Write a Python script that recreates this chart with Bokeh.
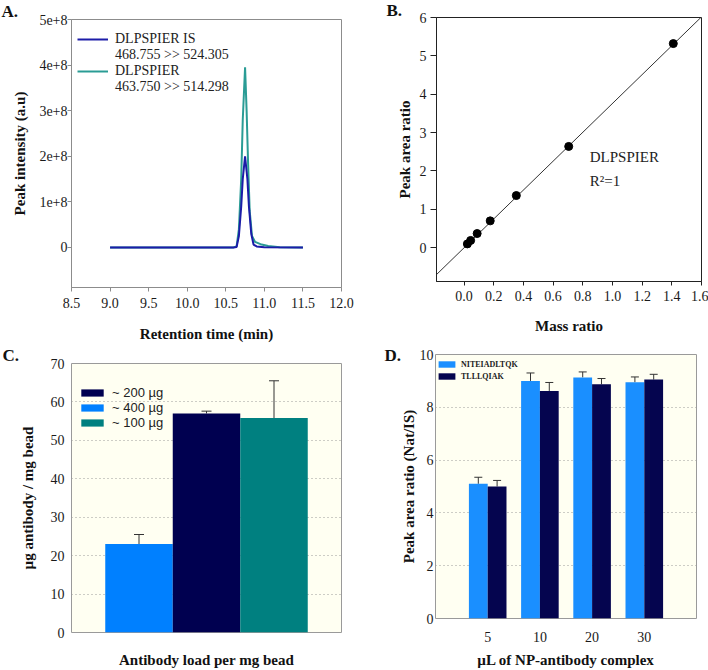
from bokeh.plotting import figure
from bokeh.layouts import column, row
from bokeh.models import (Range1d, FixedTicker, CustomJSTickFormatter, PrintfTickFormatter,
                          Legend, LegendItem, Label, Whisker, TeeHead, ColumnDataSource)
from bokeh.transform import dodge
from bokeh.embed import file_html
from bokeh.resources import INLINE

SERIF = "Liberation Serif"
SANS = "Liberation Sans"

# ---------------- Panel A data (chromatogram) ----------------
rt_is = [9.0, 10.60, 10.64, 10.67, 10.70, 10.72, 10.75, 10.78, 10.80, 10.83, 10.86, 10.90, 11.00, 11.50]
int_is = [0, 0, 0.01e8, 0.25e8, 0.9e8, 1.5e8, 2.0e8, 1.5e8, 0.9e8, 0.3e8, 0.06e8, 0.02e8, 0.005e8, 0]
rt_nat = [9.0, 10.60, 10.64, 10.67, 10.70, 10.72, 10.75, 10.77, 10.79, 10.81, 10.84, 10.88, 10.95, 11.05, 11.20, 11.50]
int_nat = [0, 0, 0.02e8, 0.4e8, 1.5e8, 2.8e8, 3.95e8, 3.0e8, 1.8e8, 0.8e8, 0.25e8, 0.12e8, 0.07e8, 0.03e8, 0.005e8, 0]
legend_a = ["DLPSPIER IS", "468.755 >> 524.305", "DLPSPIER", "463.750 >> 514.298"]
a_xticks = [8.5, 9.0, 9.5, 10.0, 10.5, 11.0, 11.5, 12.0]
a_yticks = [0, 1e8, 2e8, 3e8, 4e8, 5e8]

# ---------------- Panel B data (calibration) ----------------
mass_ratio = [0.022, 0.044, 0.088, 0.176, 0.352, 0.705, 1.41]
area_ratio = [0.10, 0.19, 0.37, 0.70, 1.36, 2.64, 5.32]
fit_slope = 3.76
fit_intercept = 0.0
b_xticks = [0.0, 0.2, 0.4, 0.6, 0.8, 1.0, 1.2, 1.4, 1.6]
b_yticks = [0, 1, 2, 3, 4, 5, 6]
b_note = ["DLPSPIER", "R\u00b2=1"]

# ---------------- Panel C data (antibody load) ----------------
c_labels = ["~ 400 \u00b5g", "~ 200 \u00b5g", "~ 100 \u00b5g"]
c_values = [23.0, 57.0, 55.8]
c_errors = [2.5, 0.6, 9.7]
c_colors = ["#0080ff", "#000050", "#008080"]
c_legend_order = ["~ 200 \u00b5g", "~ 400 \u00b5g", "~ 100 \u00b5g"]
c_yticks = [0, 10, 20, 30, 40, 50, 60, 70]

# ---------------- Panel D data ----------------
d_volumes = ["5", "10", "20", "30"]
d_series = ["NITEIADLTQK", "TLLLQIAK"]
d_nite = [5.10, 9.00, 9.13, 8.95]
d_nite_err = [0.25, 0.30, 0.21, 0.20]
d_tllq = [5.00, 8.62, 8.87, 9.05]
d_tllq_err = [0.23, 0.32, 0.22, 0.20]
d_yticks = [0, 2, 4, 6, 8, 10]

panel_letters = ["A.", "B.", "C.", "D."]

BLUE_A = "#1c1ca8"
TEAL_A = "#2a9c95"
IVORY = "#fffff2"
ERR = "#333333"


def base_axes(p, color, tick_out, size="14px"):
    for ax in p.axis:
        ax.axis_line_color = color
        ax.major_tick_line_color = color if tick_out else None
        ax.minor_tick_line_color = None
        ax.major_tick_out = tick_out
        ax.major_tick_in = 0
        ax.major_label_text_font = SERIF
        ax.major_label_text_font_size = size
        ax.major_label_text_color = "#1a1a1a"
        ax.axis_label_text_font = SERIF
        ax.axis_label_text_font_style = "bold"
        ax.axis_label_text_font_size = "15px"
        ax.axis_label_text_color = "#111111"


def letter_title(p, text, offset, standoff, size="17px"):
    t = p.title
    t.text = text
    t.align = "left"
    t.offset = offset
    t.standoff = standoff
    t.vertical_align = "bottom"
    t.text_font = SERIF
    t.text_font_style = "bold"
    t.text_font_size = size
    t.text_color = "#111111"


def fig(w, h, xr, yr, l, r, t, b):
    return figure(width=w, height=h, x_range=xr, y_range=yr, output_backend="svg",
                  toolbar_location=None, min_border_left=l, min_border_right=r,
                  min_border_top=t, min_border_bottom=b)


# ================= Panel A =================
pA = fig(354, 344, Range1d(8.5, 12.0), Range1d(-0.88e8, 5e8), 71, 13, 19, 57)
pA.grid.visible = False
pA.outline_line_color = "#8c8c8c"
r_nat = pA.line(rt_nat, int_nat, line_color=TEAL_A, line_width=2)
r_is = pA.line(rt_is, int_is, line_color=BLUE_A, line_width=2)
r_blank = pA.line([], [], line_alpha=0)
base_axes(pA, "#8c8c8c", 4)
pA.xaxis.ticker = FixedTicker(ticks=a_xticks)
pA.xaxis.formatter = PrintfTickFormatter(format="%.1f")
pA.yaxis.ticker = FixedTicker(ticks=a_yticks)
pA.yaxis.formatter = CustomJSTickFormatter(code="return tick == 0 ? '0' : (tick/1e8).toFixed(0) + 'e+8';")
pA.xaxis.axis_label = "Retention time (min)"
pA.xaxis.major_label_standoff = 6
pA.xaxis.axis_label_standoff = 15
pA.yaxis.axis_label = "Peak intensity (a.u)"
pA.yaxis.major_label_standoff = 0
pA.yaxis.axis_label_standoff = 8
legA = Legend(items=[LegendItem(label=legend_a[0], renderers=[r_is]),
                     LegendItem(label=legend_a[1], renderers=[r_blank]),
                     LegendItem(label=legend_a[2], renderers=[r_nat]),
                     LegendItem(label=legend_a[3], renderers=[r_blank])],
              location=(6, 192), padding=0, spacing=0, margin=0,
              glyph_width=31, glyph_height=16, label_height=16, label_standoff=7,
              label_text_font=SERIF, label_text_font_size="14px", label_text_color="#222222",
              background_fill_alpha=0, border_line_color=None)
pA.add_layout(legA)
letter_title(pA, panel_letters[0], -70, -2)

# ================= Panel B =================
pB = fig(354, 344, Range1d(-0.186, 1.6), Range1d(-0.88, 6.0), 82, 7, 17, 63)
pB.grid.visible = False
pB.outline_line_color = "#222222"
fit_x = [pB.x_range.start, pB.x_range.end]
fit_y = [fit_slope * v + fit_intercept for v in fit_x]
pB.line(fit_x, fit_y, line_color="#333333", line_width=1)
pB.scatter(mass_ratio, area_ratio, size=8, fill_color="black", line_color="black")
base_axes(pB, "#222222", 4)
pB.yaxis.major_tick_out = 6
pB.xaxis.ticker = FixedTicker(ticks=b_xticks)
pB.xaxis.formatter = PrintfTickFormatter(format="%.1f")
pB.yaxis.ticker = FixedTicker(ticks=b_yticks)
pB.xaxis.axis_label = "Mass ratio"
pB.xaxis.major_label_standoff = 5
pB.xaxis.axis_label_standoff = 14
pB.yaxis.axis_label = "Peak area ratio"
pB.yaxis.major_label_standoff = 4
pB.yaxis.axis_label_standoff = 4
pB.add_layout(Label(x=0.847, y=2.36, text=b_note[0], text_font=SERIF, text_font_size="15px",
                    text_baseline="middle", text_color="#222222"))
pB.add_layout(Label(x=0.847, y=1.75, text=b_note[1], text_font=SERIF, text_font_size="15px",
                    text_baseline="middle", text_color="#222222"))
letter_title(pB, panel_letters[1], -50, -4)

# ================= Panel C =================
c_pos = [i + 1 for i in range(len(c_labels))]
srcC = ColumnDataSource(dict(x=c_pos, top=c_values,
                             upper=[v + e for v, e in zip(c_values, c_errors)],
                             color=c_colors, label=c_labels))
pC = fig(354, 326, Range1d(0, len(c_labels) + 1), Range1d(0, 70), 71, 13, 19, 38)
pC.background_fill_color = IVORY
pC.outline_line_color = "#9a9a9a"
pC.xgrid.visible = False
pC.ygrid.ticker = FixedTicker(ticks=c_yticks)
pC.ygrid.grid_line_color = "#9a9a9a"
pC.ygrid.grid_line_dash = "1 3"
rC = pC.vbar(x="x", top="top", width=1.0, fill_color="color", line_color=None, source=srcC)
pC.add_layout(Whisker(base="x", lower="top", upper="upper", source=srcC, line_color=ERR,
                      line_width=1, lower_head=None,
                      upper_head=TeeHead(size=10, line_color=ERR, line_width=1)))
base_axes(pC, None, 0)
pC.xaxis.ticker = FixedTicker(ticks=[])
pC.yaxis.ticker = FixedTicker(ticks=c_yticks)
pC.yaxis.major_label_standoff = 7
pC.yaxis.axis_label = "\u00b5g antibody / mg bead"
pC.yaxis.axis_label_standoff = 12
pC.xaxis.axis_label = "Antibody load per mg bead"
pC.xaxis.axis_label_standoff = 19
legC = Legend(items=[LegendItem(label=lbl, renderers=[rC], index=c_labels.index(lbl))
                     for lbl in c_legend_order],
              location=(7, 202), padding=0, spacing=-2, margin=0,
              glyph_width=28, glyph_height=9, label_height=14, label_standoff=6,
              label_text_font=SANS, label_text_font_size="13px", label_text_color="#222222",
              background_fill_alpha=0, border_line_color=None)
pC.add_layout(legC)
letter_title(pC, panel_letters[2], -69, -2)

# ================= Panel D =================
d_pos = [i + 1 for i in range(len(d_volumes))]
srcD = ColumnDataSource(dict(x=d_pos, nite=d_nite, tllq=d_tllq,
                             nite_top=[v + e for v, e in zip(d_nite, d_nite_err)],
                             tllq_top=[v + e for v, e in zip(d_tllq, d_tllq_err)]))
pD = fig(354, 326, Range1d(0, len(d_volumes) + 1), Range1d(0, 10), 81, 12, 10, 52)
pD.background_fill_color = IVORY
pD.outline_line_color = "#9a9a9a"
pD.xgrid.visible = False
pD.ygrid.ticker = FixedTicker(ticks=d_yticks)
pD.ygrid.grid_line_color = "#9a9a9a"
pD.ygrid.grid_line_dash = "1 3"
r1 = pD.vbar(x=dodge("x", -0.18), top="nite", width=0.36, fill_color="#1a8fff", line_color=None, source=srcD)
r2 = pD.vbar(x=dodge("x", 0.18), top="tllq", width=0.36, fill_color="#05054f", line_color=None, source=srcD)
pD.add_layout(Whisker(base=dodge("x", -0.18), lower="nite", upper="nite_top", source=srcD,
                      line_color=ERR, lower_head=None,
                      upper_head=TeeHead(size=8, line_color=ERR, line_width=1)))
pD.add_layout(Whisker(base=dodge("x", 0.18), lower="tllq", upper="tllq_top", source=srcD,
                      line_color=ERR, lower_head=None,
                      upper_head=TeeHead(size=8, line_color=ERR, line_width=1)))
base_axes(pD, None, 0)
pD.xaxis.ticker = FixedTicker(ticks=d_pos)
pD.xaxis.major_label_overrides = {p: v for p, v in zip(d_pos, d_volumes)}
pD.yaxis.ticker = FixedTicker(ticks=d_yticks)
pD.xaxis.major_label_standoff = 13
pD.xaxis.axis_label = "\u00b5L of NP-antibody complex"
pD.xaxis.axis_label_standoff = 7
pD.yaxis.major_label_standoff = 2
pD.yaxis.axis_label = "Peak area ratio (Nat/IS)"
pD.yaxis.axis_label_standoff = 0
legD = Legend(items=[LegendItem(label=d_series[0], renderers=[r1]),
                     LegendItem(label=d_series[1], renderers=[r2])],
              location=(1, 236), padding=1, spacing=0, margin=0,
              glyph_width=21, glyph_height=8, label_height=12, label_standoff=4,
              label_text_font=SERIF, label_text_font_size="8px", label_text_font_style="bold",
              label_text_color="#222222", background_fill_alpha=0, border_line_color=None)
pD.add_layout(legD)
letter_title(pD, panel_letters[3], -51, -20)

layout = column(row(column(pA), column(pB)), row(column(pC), column(pD)))
open("out.html", "w").write(file_html(layout, INLINE))
